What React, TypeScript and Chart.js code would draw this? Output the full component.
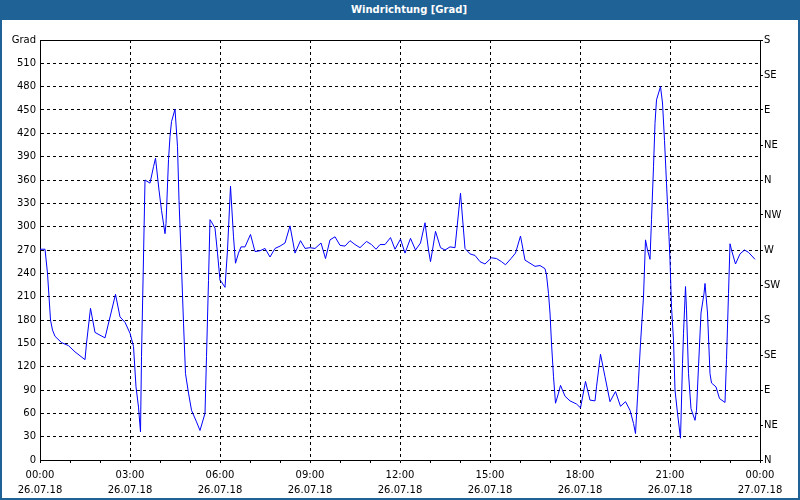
import React, { useEffect, useRef } from "react";
import { Chart, registerables } from "chart.js";

Chart.register(...registerables);

const TITLE = "Windrichtung [Grad]";
const BLUE = "#1f6295";

// time of each reading, minutes after 26.07.18 00:00
const minutes = [
  0, 10, 15, 18, 21, 25, 30, 43, 57, 70,
  90, 93, 101, 110, 130, 151, 160, 170, 180, 187,
  192, 197, 201, 203, 207, 210, 220, 227, 231, 238,
  243, 250, 252, 257, 260, 263, 270, 275, 278, 282,
  287, 291, 297, 303, 313, 320, 330, 333, 337, 340,
  343, 350, 355, 360, 363, 370, 375, 381, 387, 391,
  397, 402, 410, 421, 430, 440, 450, 460, 470, 480,
  490, 500, 510, 521, 530, 540, 550, 562, 571, 580,
  590, 600, 610, 620, 630, 640, 653, 663, 672, 680,
  690, 701, 710, 721, 730, 741, 751, 761, 770, 777,
  781, 785, 791, 801, 810, 820, 830, 841, 850, 860,
  870, 880, 890, 903, 913, 923, 931, 942, 951, 961,
  970, 980, 990, 1000, 1010, 1013, 1017, 1020, 1023, 1027,
  1031, 1037, 1041, 1050, 1060, 1073, 1081, 1091, 1100, 1110,
  1113, 1121, 1130, 1140, 1151, 1161, 1171, 1180, 1187, 1191,
  1197, 1201, 1207, 1211, 1215, 1220, 1223, 1227, 1230, 1233,
  1241, 1245, 1249, 1253, 1258, 1260, 1263, 1267, 1270, 1275,
  1281, 1285, 1287, 1291, 1293, 1297, 1302, 1310, 1313, 1317,
  1322, 1328, 1330, 1335, 1340, 1343, 1352, 1359, 1370, 1373,
  1377, 1380, 1383, 1391, 1400, 1409, 1417, 1430,
];

// wind direction in degrees
const values = [
  271, 271, 240, 210, 180, 167, 159, 151, 147, 139,
  129, 150, 195, 164, 157, 213, 184, 177, 163, 146,
  94, 68, 36, 133, 261, 360, 356, 377, 388, 347,
  321, 291, 304, 386, 416, 435, 451, 403, 334, 266,
  176, 111, 86, 64, 49, 38, 60, 133, 231, 309,
  306, 298, 266, 231, 229, 222, 270, 352, 287, 253,
  266, 274, 274, 290, 268, 269, 272, 261, 272, 275,
  279, 301, 266, 282, 272, 273, 272, 279, 259, 283,
  287, 276, 275, 282, 277, 273, 281, 277, 271, 277,
  277, 286, 271, 284, 266, 285, 270, 279, 305, 270,
  255, 270, 294, 273, 270, 274, 273, 343, 272, 265,
  263, 255, 252, 260, 259, 255, 251, 259, 266, 288,
  257, 253, 249, 250, 246, 238, 214, 189, 150, 107,
  73, 86, 96, 82, 76, 72, 67, 101, 77, 76,
  94, 136, 107, 75, 88, 69, 75, 64, 47, 34,
  103, 150, 210, 283, 270, 258, 309, 377, 433, 463,
  480, 459, 411, 356, 287, 257, 197, 154, 90, 60,
  28, 124, 163, 223, 193, 111, 66, 51, 64, 120,
  189, 214, 227, 189, 111, 99, 94, 79, 74, 129,
  214, 278, 270, 252, 265, 270, 267, 258,
];

const timeLabels = ["00:00", "03:00", "06:00", "09:00", "12:00", "15:00", "18:00", "21:00", "00:00"];
const dateLabels = ["26.07.18", "26.07.18", "26.07.18", "26.07.18", "26.07.18", "26.07.18", "26.07.18", "26.07.18", "27.07.18"];
const compassLabels = ["N", "NE", "E", "SE", "S", "SW", "W", "NW", "N", "NE", "E", "SE", "S"];
const leftUnitLabel = "Grad";

const font = { family: "'DejaVu Sans', sans-serif", size: 10, lineHeight: 1.5 };

export default function App() {
  const ref = useRef<HTMLCanvasElement>(null);

  useEffect(() => {
    if (!ref.current) return;
    const frame = {
      id: "frameTop",
      afterDraw(chart: any) {
        const { ctx, chartArea } = chart;
        ctx.save();
        ctx.strokeStyle = "#000";
        ctx.lineWidth = 1;
        ctx.setLineDash([]);
        ctx.beginPath();
        const y = Math.round(chartArea.top) + 0.5;
        ctx.moveTo(chartArea.left, y);
        ctx.lineTo(chartArea.right + 1, y);
        ctx.stroke();
        ctx.restore();
      },
    };
    const chart = new Chart(ref.current, {
      type: "line",
      data: {
        datasets: [
          {
            data: minutes.map((m, i) => ({ x: m, y: values[i] })),
            borderColor: "#0000ff",
            borderWidth: 1,
            pointRadius: 0,
            tension: 0,
            fill: false,
          },
        ],
      },
      options: {
        animation: false,
        responsive: false,
        devicePixelRatio: 1,
        layout: { padding: { top: 40, left: 0, right: 0, bottom: 0 } },
        plugins: {
          legend: { display: false },
          tooltip: { enabled: false },
          title: { display: false },
        },
        scales: {
          x: {
            type: "linear",
            min: 0,
            max: 1440,
            afterFit(s: any) {
              s.height = 40;
            },
            ticks: {
              stepSize: 60,
              autoSkip: false,
              maxRotation: 0,
              minRotation: 0,
              padding: 5,
              font,
              color: "#000",
              callback(v: any) {
                const m = Number(v);
                if (m % 180 !== 0) return "";
                const i = m / 180;
                return [timeLabels[i], dateLabels[i]];
              },
            },
            grid: {
              color: (c: any) => (c.tick && c.tick.value % 180 === 0 ? "#000" : "rgba(0,0,0,0)"),
              tickColor: "#000",
              tickLength: 3,
              drawTicks: true,
              lineWidth: 1,
            },
            border: { display: true, color: "#000", width: 1, dash: [3, 3] },
          },
          y: {
            position: "left",
            min: 0,
            max: 540,
            afterFit(s: any) {
              s.width = 40;
            },
            ticks: {
              stepSize: 30,
              padding: 4,
              font,
              color: "#000",
              callback: (v: any) => (Number(v) === 540 ? leftUnitLabel : String(v)),
            },
            grid: { color: "#000", drawTicks: false, lineWidth: 1 },
            border: { display: true, color: "#000", width: 1, dash: [3, 3] },
          },
          y2: {
            position: "right",
            min: 0,
            max: 540,
            afterFit(s: any) {
              s.width = 40;
            },
            ticks: {
              stepSize: 45,
              padding: 1,
              font,
              color: "#000",
              callback: (v: any) => compassLabels[Math.round(Number(v) / 45)],
            },
            grid: { drawOnChartArea: false, tickColor: "#000", tickLength: 3, drawTicks: true },
            border: { display: true, color: "#000", width: 1 },
          },
        },
      } as any,
      plugins: [frame],
    });
    return () => chart.destroy();
  }, []);

  return (
    <div
      style={{
        position: "fixed",
        left: 0,
        top: 0,
        width: 800,
        height: 500,
        background: "#fff",
        overflow: "hidden",
      }}
    >
      <canvas ref={ref} width={800} height={500} style={{ position: "absolute", left: 0, top: 0, width: 800, height: 500 }} />
      <div
        style={{
          position: "absolute",
          left: 0,
          top: 0,
          width: 800,
          height: 20,
          background: BLUE,
          color: "#fff",
          font: "bold 10px 'DejaVu Sans', sans-serif",
          lineHeight: "20px",
          textAlign: "center",
          paddingLeft: 18,
          boxSizing: "border-box",
        }}
      >
        {TITLE}
      </div>
      <div style={{ position: "absolute", left: 0, top: 0, width: 2, height: 500, background: BLUE }} />
      <div style={{ position: "absolute", right: 0, top: 0, width: 2, height: 500, background: BLUE }} />
      <div style={{ position: "absolute", left: 0, bottom: 0, width: 800, height: 2, background: BLUE }} />
    </div>
  );
}
